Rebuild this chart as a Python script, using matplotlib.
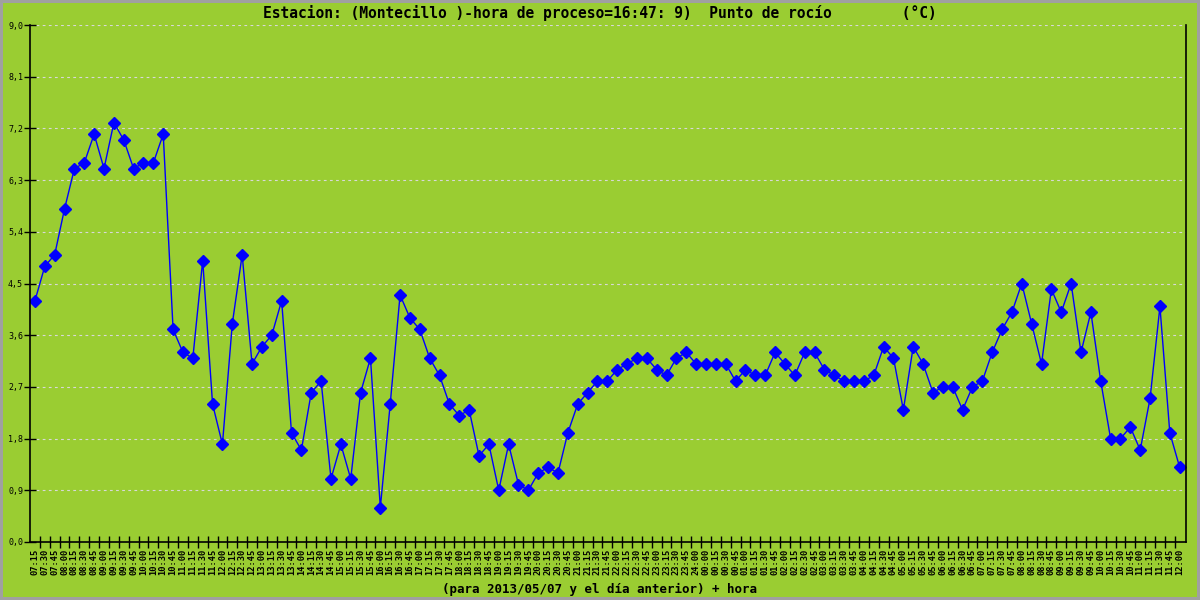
import matplotlib
matplotlib.use("Agg")
import matplotlib.pyplot as plt
import numpy as np
from matplotlib.ticker import FixedLocator, FixedFormatter

# Hour labels: 07:15 .. 24:00 of the previous day, then 00:00 .. 12:00
hours = (
    [f"{m // 60:02d}:{m % 60:02d}" for m in range(7 * 60 + 15, 24 * 60 + 1, 15)]
    + [f"{m // 60:02d}:{m % 60:02d}" for m in range(0, 12 * 60 + 1, 15)]
)

dew_point = [
    4.2, 4.8, 5.0, 5.8, 6.5, 6.6, 7.1, 6.5, 7.3, 7.0,
    6.5, 6.6, 6.6, 7.1, 3.7, 3.3, 3.2, 4.9, 2.4, 1.7,
    3.8, 5.0, 3.1, 3.4, 3.6, 4.2, 1.9, 1.6, 2.6, 2.8,
    1.1, 1.7, 1.1, 2.6, 3.2, 0.6, 2.4, 4.3, 3.9, 3.7,
    3.2, 2.9, 2.4, 2.2, 2.3, 1.5, 1.7, 0.9, 1.7, 1.0,
    0.9, 1.2, 1.3, 1.2, 1.9, 2.4, 2.6, 2.8, 2.8, 3.0,
    3.1, 3.2, 3.2, 3.0, 2.9, 3.2, 3.3, 3.1, 3.1, 3.1,
    3.1, 2.8, 3.0, 2.9, 2.9, 3.3, 3.1, 2.9, 3.3, 3.3,
    3.0, 2.9, 2.8, 2.8, 2.8, 2.9, 3.4, 3.2, 2.3, 3.4,
    3.1, 2.6, 2.7, 2.7, 2.3, 2.7, 2.8, 3.3, 3.7, 4.0,
    4.5, 3.8, 3.1, 4.4, 4.0, 4.5, 3.3, 4.0, 2.8, 1.8,
    1.8, 2.0, 1.6, 2.5, 4.1, 1.9, 1.3,
]

y_ticks = [0.0, 0.9, 1.8, 2.7, 3.6, 4.5, 5.4, 6.3, 7.2, 8.1, 9.0]

title = "Estacion: (Montecillo )-hora de proceso=16:47: 9)  Punto de rocío        (°C)"
xlabel = "(para 2013/05/07 y el día anterior) + hora"

BG = "#9acd32"
MONO = "DejaVu Sans Mono"

fig = plt.figure(figsize=(12, 6), dpi=100, facecolor=BG)
fig.patch.set_edgecolor("#a0a0a0")
fig.patch.set_linewidth(3)
ax = fig.add_axes([0.025, 0.0967, 0.963, 0.8616], facecolor=BG)

x = np.arange(len(dew_point))
ax.plot(x, dew_point, color="#0000ff", lw=1.0, marker="D", ms=6.0,
        mec="#0000ff", mfc="#0000ff")

ax.set_xlim(-0.5, 116.6)
ax.set_ylim(0, 9.0)

# y axis
ax.set_yticks(y_ticks)
ax.set_yticklabels([f"{v:.1f}".replace(".", ",") for v in y_ticks],
                   fontsize=6, family=MONO)
ax.tick_params(axis="y", direction="inout", length=8, width=1, pad=1)
ax.yaxis.grid(True, color="#d8d8d8", ls=(0, (2.5, 3)), lw=0.8)
ax.set_axisbelow(True)

# x axis: labels on points, tick marks between points
ax.xaxis.set_major_locator(FixedLocator(x))
ax.xaxis.set_major_formatter(FixedFormatter(hours))
ax.xaxis.set_minor_locator(FixedLocator(x[:-1] + 0.5))
ax.tick_params(axis="x", which="major", length=0, pad=5, labelsize=6.3,
               labelrotation=90)
ax.tick_params(axis="x", which="minor", direction="inout", length=8, width=1)
for lbl in ax.get_xticklabels():
    lbl.set_family(MONO)
    lbl.set_fontweight("bold")

for side in ("left", "bottom", "right"):
    ax.spines[side].set_color("black")
    ax.spines[side].set_linewidth(1.2)
ax.spines["top"].set_visible(False)

fig.text(0.5, 0.978, title, ha="center", va="center", fontsize=10.5,
         family=MONO, fontweight="semibold")
fig.text(0.5, 0.017, xlabel, ha="center", va="center", fontsize=9,
         family=MONO, fontweight="bold")

fig.savefig("out.png", dpi=100, facecolor=BG, edgecolor=fig.patch.get_edgecolor())
